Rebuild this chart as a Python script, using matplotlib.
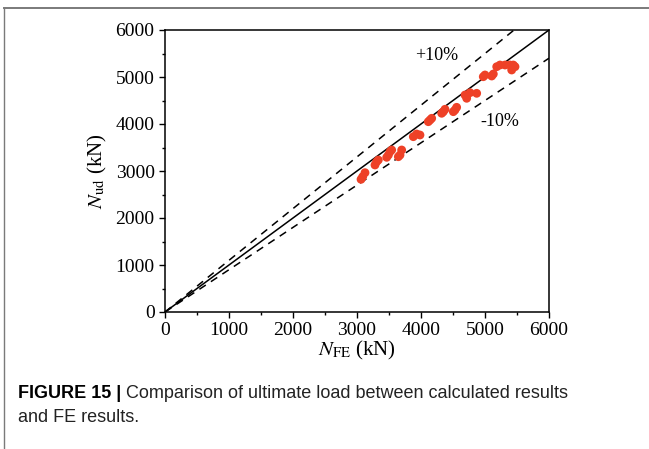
import matplotlib
matplotlib.use("Agg")
import matplotlib.pyplot as plt
from matplotlib.ticker import MultipleLocator
from matplotlib.lines import Line2D

# Data (kN)
n_fe = [3063, 3089, 3125, 3281, 3307, 3333, 3464, 3490, 3516, 3542,
        3646, 3672, 3698, 3880, 3932, 3984, 4114, 4141, 4167, 4323,
        4349, 4375, 4505, 4531, 4557, 4688, 4714, 4766, 4870, 4973,
        5000, 5105, 5130, 5183, 5234, 5313, 5391, 5442, 5417, 5469]
n_ud = [2823, 2879, 2964, 3128, 3198, 3234, 3291, 3340, 3411, 3447,
        3304, 3340, 3447, 3730, 3787, 3766, 4049, 4085, 4121, 4228,
        4262, 4313, 4262, 4298, 4355, 4617, 4547, 4666, 4653, 5006,
        5043, 5021, 5064, 5219, 5255, 5255, 5255, 5255, 5149, 5219]
ref_x = [0, 6000]
plus_x = [0, 6000 / 1.1]
upper_factor = 1.1
lower_factor = 0.9
xticks = [0, 1000, 2000, 3000, 4000, 5000, 6000]
yticks = [0, 1000, 2000, 3000, 4000, 5000, 6000]

plt.rcParams['mathtext.fontset'] = 'stix'
serif = ['Liberation Serif', 'DejaVu Serif']

fig = plt.figure(figsize=(6.49, 4.49), dpi=100)
ax = fig.add_axes([165/649, 1-312/449, (549-165)/649, (312-30)/449])

ax.plot(ref_x, ref_x, color='black', lw=1.1, zorder=2)
ax.plot(plus_x, [v * upper_factor for v in plus_x], color='black', lw=1.1,
        ls=(0, (5, 4)), zorder=2)
ax.plot(ref_x, [v * lower_factor for v in ref_x], color='black', lw=1.1,
        ls=(0, (5, 4)), zorder=2)
ax.scatter(n_fe, n_ud, s=40, color='#EE4127', edgecolors='none', zorder=3)

ax.text(4250, 5468, '+10%', ha='center', va='center', fontsize=13, family=serif)
ax.text(5234, 4043, '-10%', ha='center', va='center', fontsize=13, family=serif)

ax.set_xlim(0, 6000)
ax.set_ylim(0, 6000)
ax.set_xticks(xticks)
ax.set_yticks(yticks)
ax.xaxis.set_minor_locator(MultipleLocator(500))
ax.yaxis.set_minor_locator(MultipleLocator(500))
ax.tick_params(which='major', direction='out', length=4.5, width=1, labelsize=14, pad=3)
ax.tick_params(which='minor', direction='out', length=2.5, width=1)
for lab in ax.get_xticklabels() + ax.get_yticklabels():
    lab.set_family(serif)
for sp in ax.spines.values():
    sp.set_linewidth(1.1)

ax.set_xlabel(r'$N_{\mathrm{FE}}$ (kN)', fontsize=15, family=serif, labelpad=0)
ax.set_ylabel(r'$N_{\mathrm{ud}}$ (kN)', fontsize=15, family=serif, labelpad=5)

# Outer border (top and left only)
fig.add_artist(Line2D([4/649, 1.01], [1-7.5/449, 1-7.5/449], transform=fig.transFigure,
                      color='#7a7a7a', lw=1.4))
fig.add_artist(Line2D([4/649, 4/649], [-0.01, 1-7.5/449], transform=fig.transFigure,
                      color='#7a7a7a', lw=1.0))

sans = ['Liberation Sans', 'DejaVu Sans']
fs = 13.0
t1 = fig.text(18/649, 1-393/449, 'FIGURE 15 |', fontsize=fs, weight='bold',
              family=sans, va='center', ha='left')
fig.canvas.draw()
bb = t1.get_window_extent(renderer=fig.canvas.get_renderer())
x_next = (bb.x1 + 5) / fig.bbox.width
fig.text(x_next, 1-393/449, 'Comparison of ultimate load between calculated results',
         fontsize=fs, family=sans, va='center', ha='left', color='#222222')
fig.text(18/649, 1-418/449, 'and FE results.', fontsize=fs, family=sans,
         va='center', ha='left', color='#222222')

fig.savefig('out.png', dpi=100)
